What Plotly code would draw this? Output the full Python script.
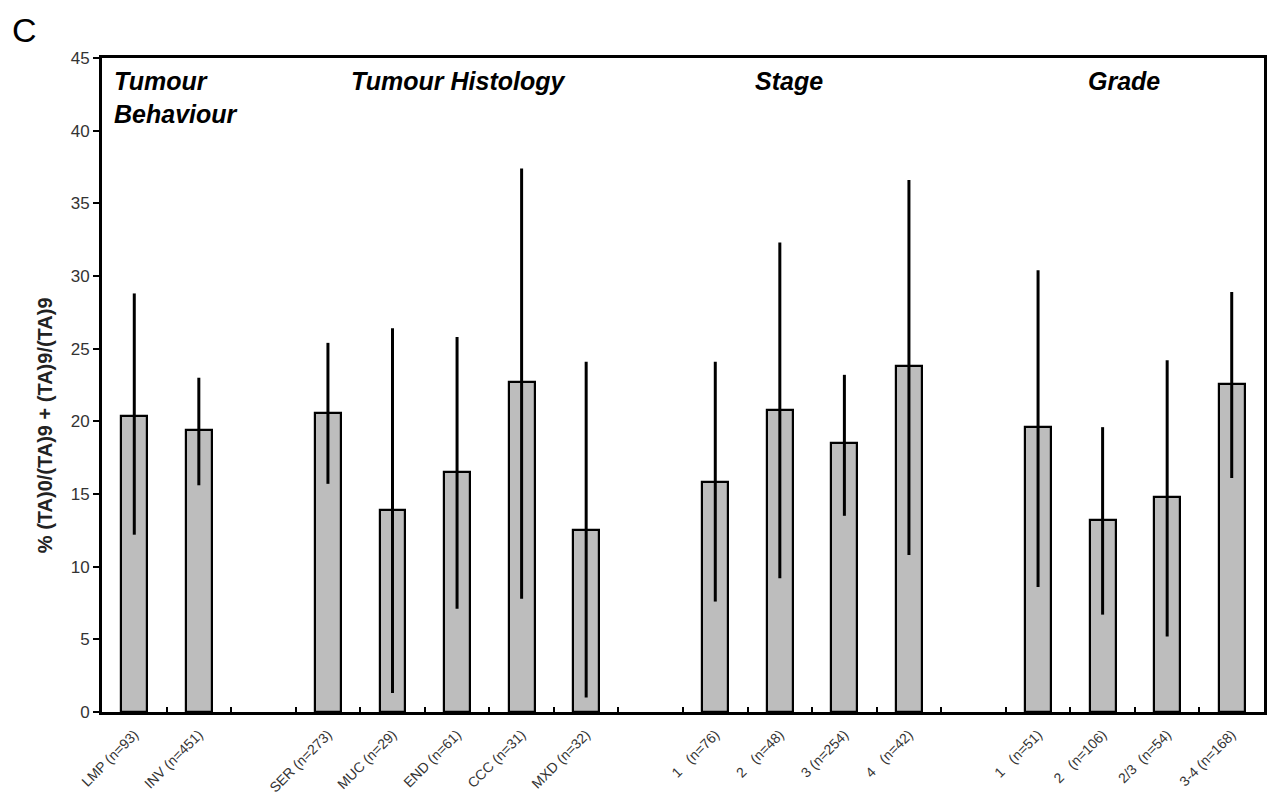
import plotly.graph_objects as go

# Subgroups of the cohort, one list per panel section
groups = ["Tumour<br>Behaviour", "Tumour Histology", "Stage", "Grade"]
group_labels = [
    ["LMP (n=93)", "INV (n=451)"],
    ["SER (n=273)", "MUC (n=29)", "END (n=61)", "CCC (n=31)", "MXD (n=32)"],
    ["1\u00a0\u00a0\u00a0(n=76)", "2\u00a0\u00a0\u00a0(n=48)", "3 (n=254)", "4\u00a0\u00a0\u00a0(n=42)"],
    ["1\u00a0\u00a0\u00a0(n=51)", "2\u00a0\u00a0\u00a0(n=106)", "2/3\u00a0\u00a0(n=54)", "3-4 (n=168)"],
]
# Mean percentage per subgroup
group_means = [
    [20.4, 19.4],
    [20.6, 13.9, 16.5, 22.7, 12.5],
    [15.8, 20.8, 18.5, 23.8],
    [19.6, 13.2, 14.8, 22.6],
]
# Upper and lower ends of the spread lines
group_upper = [
    [28.8, 23.0],
    [25.4, 26.4, 25.8, 37.4, 24.1],
    [24.1, 32.3, 23.2, 36.6],
    [30.4, 19.6, 24.2, 28.9],
]
group_lower = [
    [12.2, 15.6],
    [15.7, 1.3, 7.1, 7.8, 1.0],
    [7.6, 9.2, 13.5, 10.8],
    [8.6, 6.7, 5.2, 16.1],
]

# Build a category axis with one empty slot between sections
cats, means, plus, minus = [], [], [], []
for gi, labels in enumerate(group_labels):
    if gi > 0:
        cats.append("\u200b" * gi)
    for lab, m, hi, lo in zip(labels, group_means[gi], group_upper[gi], group_lower[gi]):
        cats.append(lab)
        means.append(m)
        plus.append(hi - m)
        minus.append(m - lo)

bar_cats = [c for c in cats if c.strip("\u200b")]

fig = go.Figure()
fig.add_trace(go.Bar(
    x=bar_cats, y=means,
    width=0.40,
    marker=dict(color="#bdbdbd", line=dict(color="black", width=2.2)),
    error_y=dict(type="data", symmetric=False, array=plus, arrayminus=minus,
                 color="black", thickness=3, width=0),
    showlegend=False,
))

font_family = "Liberation Sans, Arial, sans-serif"

fig.update_layout(
    width=1270, height=803,
    margin=dict(l=102, r=3, t=58, b=91),
    plot_bgcolor="white", paper_bgcolor="white",
    font=dict(family=font_family, color="#222"),
    bargap=0,
    xaxis=dict(
        type="category", categoryorder="array", categoryarray=cats,
        range=[-0.5, len(cats) - 0.5],
        tickson="boundaries", ticks="inside", ticklen=5, tickwidth=2, tickcolor="black",
        tickangle=-45, tickfont=dict(size=14, color="#333"),
        ticklabelstandoff=6,
        showline=True, linecolor="black", linewidth=3, mirror=True,
        showgrid=False, zeroline=False,
    ),
    yaxis=dict(
        range=[0, 45], tickvals=list(range(0, 46, 5)),
        ticks="outside", ticklen=6, tickwidth=2, tickcolor="black",
        tickfont=dict(size=17, color="#333"),
        showline=True, linecolor="black", linewidth=3, mirror=True,
        showgrid=False, zeroline=False,
    ),
)

# Section headings inside the plot (left edge, in category-index units)
head_x = [-0.35, 3.33, 9.59, 14.75]
for g, hx in zip(groups, head_x):
    fig.add_annotation(
        x=hx, xref="x", y=44.5, yref="y",
        text=f"<b><i>{g}</i></b>", showarrow=False,
        xanchor="left", yanchor="top", align="left",
        font=dict(size=25, color="black", family=font_family),
    )

# Y-axis title
fig.add_annotation(
    x=-57 / 1165, xref="paper", y=(712 - 425) / 654, yref="paper",
    text="<b>% (TA)0/(TA)9 + (TA)9/(TA)9</b>", textangle=-90,
    showarrow=False, xanchor="center", yanchor="middle",
    font=dict(size=20, color="#222", family=font_family),
)

# Panel letter
fig.add_annotation(
    x=-92 / 1165, xref="paper", y=1 + 28 / 654, yref="paper", text="C",
    showarrow=False, xanchor="left", yanchor="middle",
    font=dict(size=34, color="black", family=font_family),
)

fig.write_html("out.html")
